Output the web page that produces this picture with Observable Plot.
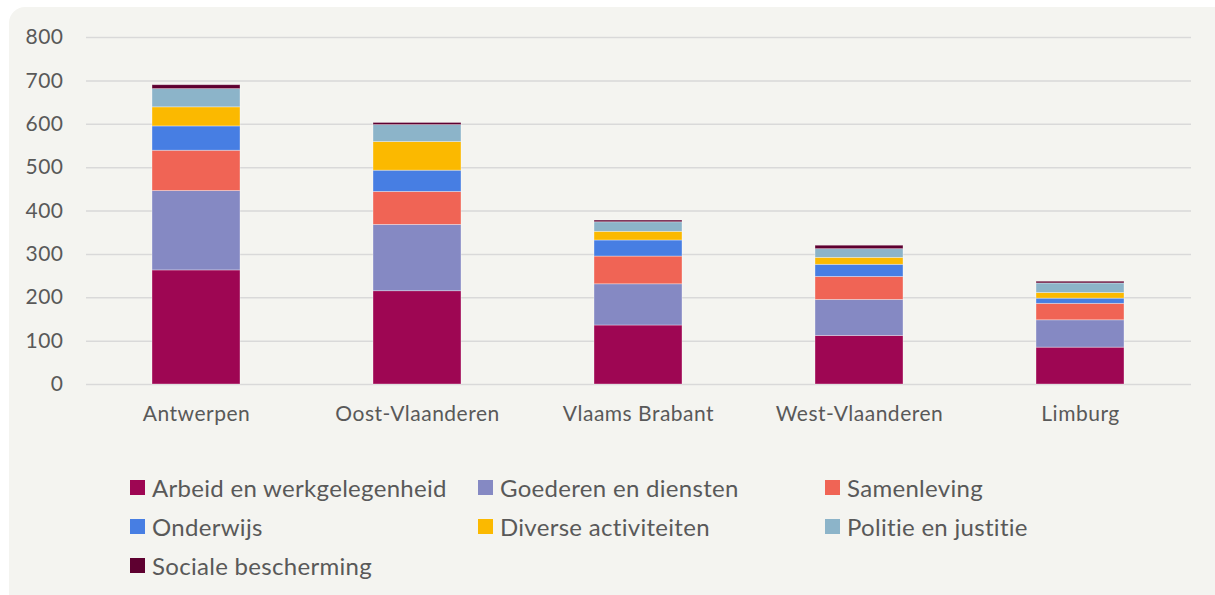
<!DOCTYPE html>
<html>
<head>
<meta charset="utf-8">
<script src="https://cdn.jsdelivr.net/npm/d3@7"></script>
<script src="https://cdn.jsdelivr.net/npm/@observablehq/plot@0.6"></script>
<style>
  html, body { margin: 0; padding: 0; background: #ffffff; }
  #wrap { position: relative; width: 1215px; height: 595px; overflow: hidden; font-family: Lato, "Open Sans", sans-serif; }
  #panel { position: absolute; left: 9px; top: 7px; width: 1230px; height: 620px; background: #F4F4F0; border-radius: 16px; }
  #chart { position: absolute; left: 0; top: 0; }
  #legend { position: absolute; left: 0; top: 450px; width: 1215px; height: 145px; }
  .item { position: absolute; display: flex; align-items: center; color: #595959; font-size: 24px; letter-spacing: 0.3px; white-space: nowrap; }
  .sw { width: 15px; height: 15px; margin-right: 7px; flex: none; }
</style>
</head>
<body>
<div id="wrap">
  <div id="panel"></div>
  <div id="chart"></div>
  <div id="legend"></div>
</div>
<script>
const categories = ["Antwerpen", "Oost-Vlaanderen", "Vlaams Brabant", "West-Vlaanderen", "Limburg"];
const series = ["Arbeid en werkgelegenheid", "Goederen en diensten", "Samenleving", "Onderwijs", "Diverse activiteiten", "Politie en justitie", "Sociale bescherming"];
const colors = ["#9E0653", "#8589C3", "#F06455", "#477EE3", "#FBB900", "#8CB4C9", "#5E0030"];
const arbeid      = [263, 215, 136, 112, 85];
const goederen    = [183, 153, 95, 83, 63];
const samenleving = [93, 76, 64, 53, 38];
const onderwijs   = [56, 49, 37, 28, 12];
const diverse     = [44, 66, 20, 16, 13];
const politie     = [42, 39, 22, 20, 22];
const sociale     = [9, 5, 4, 8, 4];
const yTicks = [0, 100, 200, 300, 400, 500, 600, 700, 800];

const seriesValues = [arbeid, goederen, samenleving, onderwijs, diverse, politie, sociale];
const data = [];
categories.forEach((c, i) => {
  series.forEach((s, j) => data.push({provincie: c, reeks: s, waarde: seriesValues[j][i]}));
});

const chart = Plot.plot({
  width: 1215,
  height: 450,
  marginLeft: 86,
  marginRight: 24,
  marginTop: 37,
  marginBottom: 66,
  style: {background: "transparent", fontFamily: "Lato, 'Open Sans', sans-serif", fontSize: "21px", color: "#595959", letterSpacing: "0.5px"},
  x: {domain: categories, paddingInner: 0.6, paddingOuter: 0.3, label: null, tickSize: 0, tickPadding: 23},
  y: {domain: [0, 800], ticks: yTicks, label: null, tickSize: 0, tickPadding: 23},
  color: {domain: series, range: colors},
  marks: [
    Plot.ruleY(yTicks, {stroke: "#D9D9D9", strokeWidth: 1.5}),
    Plot.barY(data, {x: "provincie", y: "waarde", fill: "reeks", stroke: "#ffffff", strokeOpacity: 0.45, strokeWidth: 0.75}),
    Plot.axisY({ticks: yTicks, tickSize: 0, tickPadding: 23, fontSize: 21}),
    Plot.axisX({tickSize: 0, tickPadding: 22, fontSize: 21})
  ]
});
chart.querySelectorAll("text").forEach(t => t.setAttribute("fill", "#595959"));
document.getElementById("chart").appendChild(chart);

const legend = d3.select("#legend");
const colX = [130, 478, 825];
const rowY = [37.5, 76.5, 115];
series.forEach((s, i) => {
  const item = legend.append("div").attr("class", "item")
    .style("left", colX[i % 3] + "px")
    .style("top", (rowY[Math.floor(i / 3)] - 15) + "px")
    .style("height", "30px");
  item.append("div").attr("class", "sw").style("background", colors[i]);
  item.append("span").text(s);
});
</script>
</body>
</html>
